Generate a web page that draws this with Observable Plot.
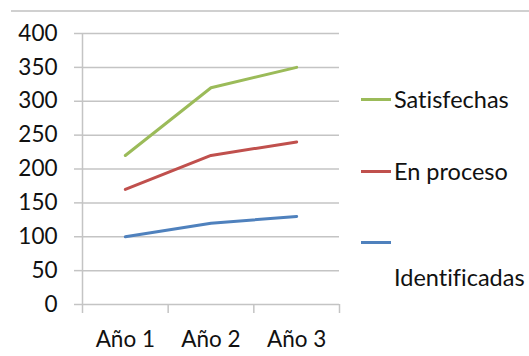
<!DOCTYPE html>
<html>
<head>
<meta charset="utf-8">
<script src="https://cdn.jsdelivr.net/npm/d3@7"></script>
<script src="https://cdn.jsdelivr.net/npm/@observablehq/plot@0.6"></script>
<style>
  html, body { margin: 0; padding: 0; background: #fff; }
  #wrap { position: relative; width: 529px; height: 356px; overflow: hidden; font-family: Lato, sans-serif; color: #111; font-variant-ligatures: none; }
  #topline { position: absolute; left: 11px; right: 0; top: 10px; height: 0; border-top: 2px solid #d0d0d0; }
  .leg { position: absolute; font-size: 23.5px; line-height: 26px; white-space: nowrap; }
  .sw { position: absolute; width: 30px; height: 3px; }
</style>
</head>
<body>
<div id="wrap">
  <div id="topline"></div>
  <div id="chart"></div>
  <div id="legend"></div>
</div>
<script>
const years = ["Año 1", "Año 2", "Año 3"];
const satisfechas = [220, 320, 350];
const enProceso = [170, 220, 240];
const identificadas = [100, 120, 130];
const seriesNames = ["Satisfechas", "En proceso", "Identificadas"];
const seriesColors = ["#9bbb59", "#c0504d", "#4f81bd"];
const yTicks = [0, 50, 100, 150, 200, 250, 300, 350, 400];

const seriesValues = [satisfechas, enProceso, identificadas];
const rows = [];
seriesValues.forEach((vals, s) => vals.forEach((v, i) => rows.push({series: seriesNames[s], i: i + 0.5, value: v})));

const grid = "#c4c4c4";
const chart = Plot.plot({
  width: 529,
  height: 356,
  marginLeft: 82,
  marginRight: 190,
  marginTop: 33,
  marginBottom: 52,
  style: {fontFamily: "Lato, sans-serif", fontSize: "22.5px", color: "#111", background: "transparent", fontVariantLigatures: "none"},
  x: {domain: [0, years.length], axis: null},
  y: {domain: [0, 400], axis: null},
  color: {domain: seriesNames, range: seriesColors},
  marks: [
    Plot.ruleY(yTicks, {y: d => d, x1: 0, x2: years.length, stroke: grid, strokeWidth: 1.5}),
    Plot.axisY(yTicks, {tickSize: 8, tickPadding: 17, stroke: grid, strokeWidth: 1.5, fill: "#111", label: null, tickFormat: d => String(d)}),
    Plot.ruleX([0], {y1: 0, y2: 400, stroke: grid, strokeWidth: 1.5}),
    Plot.axisX([0, 1, 2, 3], {tickSize: 9, stroke: grid, strokeWidth: 1.5, tickFormat: () => "", label: null}),
    Plot.axisX([0.5, 1.5, 2.5], {tickSize: 0, tickPadding: 27, fill: "#111", label: null, tickFormat: d => years[Math.floor(d)]}),
    Plot.line(rows, {x: "i", y: "value", z: "series", stroke: "series", strokeWidth: 3})
  ]
});
document.getElementById("chart").appendChild(chart);

const legendPos = [
  {sy: 99, ty: 86, text: seriesNames[0]},
  {sy: 171, ty: 158, text: seriesNames[1]},
  {sy: 242, ty: 264, text: seriesNames[2]}
];
const legend = document.getElementById("legend");
legendPos.forEach((p, k) => {
  const sw = document.createElement("div");
  sw.className = "sw";
  sw.style.left = "361px";
  sw.style.top = (p.sy - 1.5) + "px";
  sw.style.background = seriesColors[k];
  legend.appendChild(sw);
  const t = document.createElement("div");
  t.className = "leg";
  t.style.left = "394px";
  t.style.top = p.ty + "px";
  t.textContent = p.text;
  legend.appendChild(t);
});
</script>
</body>
</html>
